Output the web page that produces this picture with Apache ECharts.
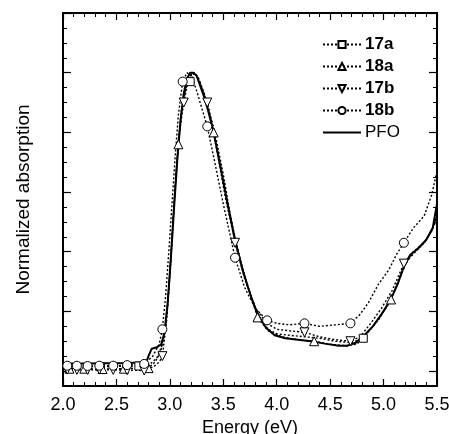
<!DOCTYPE html>
<html>
<head>
<meta charset="utf-8">
<script src="https://cdn.jsdelivr.net/npm/echarts@6/dist/echarts.min.js"></script>
<style>html,body{margin:0;padding:0;background:#fff;}#c{width:449px;height:434px;}</style>
</head>
<body>
<div id="c"></div>
<script>
// ---- data ----
var xTicks = [2.0, 2.5, 3.0, 3.5, 4.0, 4.5, 5.0, 5.5];
var yMajorTicks = [0, 0.2, 0.4, 0.6, 0.8, 1.0, 1.2];

var e17a = [2.00,2.35,2.71,2.82,2.88,2.92,2.96,2.99,3.02,3.05,3.08,3.11,3.15,3.19,3.23,3.27,3.32,3.38,3.45,3.52,3.60,3.68,3.76,3.84,3.92,4.00,4.12,4.26,4.40,4.55,4.70,4.81,4.90,5.00,5.10,5.19,5.28,5.38,5.45,5.50];
var v17a = [0.015,0.015,0.017,0.025,0.045,0.08,0.15,0.28,0.45,0.62,0.77,0.88,0.95,0.97,1.00,0.98,0.93,0.85,0.72,0.58,0.45,0.34,0.25,0.18,0.14,0.125,0.12,0.115,0.11,0.10,0.095,0.11,0.15,0.20,0.27,0.35,0.40,0.43,0.47,0.51];
var m17a = [2.35,2.71,3.19,4.81];

var e18a = [2.00,2.06,2.20,2.37,2.57,2.80,2.86,2.91,2.95,2.98,3.01,3.04,3.08,3.11,3.15,3.19,3.23,3.27,3.32,3.41,3.48,3.55,3.62,3.70,3.82,3.92,4.05,4.20,4.35,4.50,4.65,4.75,4.85,4.95,5.07,5.15,5.22,5.30,5.38,5.45,5.50];
var v18a = [0.008,0.008,0.008,0.007,0.008,0.01,0.03,0.06,0.12,0.22,0.38,0.57,0.76,0.87,0.95,0.99,1.00,0.98,0.93,0.80,0.68,0.55,0.43,0.32,0.18,0.135,0.115,0.105,0.10,0.09,0.085,0.09,0.13,0.17,0.24,0.31,0.37,0.40,0.43,0.47,0.52];
var m18a = [2.06,2.20,2.37,2.57,2.80,3.08,3.41,3.82,4.35,5.07];

var e17b = [2.00,2.04,2.13,2.23,2.34,2.47,2.60,2.76,2.85,2.90,2.93,2.97,3.00,3.03,3.06,3.09,3.13,3.17,3.21,3.25,3.30,3.35,3.42,3.50,3.61,3.70,3.80,3.91,4.00,4.12,4.26,4.40,4.55,4.69,4.78,4.88,4.98,5.08,5.19,5.28,5.38,5.45,5.50];
var v17b = [0.005,0.005,0.004,0.004,0.005,0.004,0.003,0.002,0.015,0.03,0.05,0.17,0.32,0.50,0.67,0.80,0.90,0.97,1.00,0.99,0.95,0.90,0.80,0.66,0.43,0.31,0.21,0.16,0.14,0.135,0.13,0.115,0.105,0.10,0.115,0.16,0.21,0.27,0.36,0.40,0.43,0.47,0.52];
var m17b = [2.04,2.13,2.23,2.34,2.47,2.60,2.76,2.93,3.13,3.35,3.61,4.26,4.69,5.19];

var e18b = [2.00,2.04,2.13,2.23,2.34,2.47,2.60,2.76,2.84,2.90,2.93,2.96,2.99,3.02,3.05,3.08,3.12,3.16,3.20,3.25,3.30,3.35,3.42,3.50,3.61,3.70,3.80,3.91,4.00,4.12,4.26,4.40,4.55,4.69,4.78,4.86,4.95,5.05,5.12,5.19,5.28,5.38,5.45,5.50];
var v18b = [0.018,0.018,0.018,0.017,0.018,0.018,0.02,0.024,0.05,0.09,0.14,0.25,0.40,0.56,0.72,0.86,0.97,1.00,0.99,0.94,0.88,0.82,0.70,0.56,0.38,0.28,0.21,0.17,0.16,0.155,0.16,0.15,0.155,0.16,0.19,0.23,0.29,0.34,0.39,0.43,0.48,0.52,0.59,0.67];
var m18b = [2.04,2.13,2.23,2.34,2.47,2.60,2.76,2.93,3.12,3.35,3.61,3.91,4.26,4.69,5.19];

var ePFO = [2.00,2.20,2.40,2.60,2.78,2.80,2.83,2.88,2.92,2.95,2.98,3.01,3.04,3.07,3.10,3.13,3.16,3.19,3.22,3.25,3.28,3.32,3.36,3.41,3.47,3.54,3.61,3.68,3.75,3.82,3.90,3.98,4.08,4.20,4.32,4.45,4.58,4.66,4.74,4.82,4.90,4.98,5.06,5.13,5.19,5.25,5.32,5.40,5.46,5.50];
var vPFO = [0.025,0.025,0.026,0.027,0.03,0.05,0.075,0.08,0.09,0.13,0.23,0.38,0.55,0.71,0.84,0.93,0.98,1.00,1.00,0.99,0.96,0.92,0.87,0.80,0.69,0.56,0.44,0.34,0.26,0.19,0.145,0.12,0.11,0.105,0.10,0.092,0.085,0.085,0.095,0.12,0.15,0.19,0.235,0.29,0.35,0.39,0.41,0.44,0.48,0.56];

// ---- build ----
var FONT = 'Arial, "Liberation Sans", sans-serif';
function build(es, vs, marks) {
  return es.map(function (e, i) {
    var item = { value: [e, vs[i]] };
    if (!marks || marks.indexOf(e) < 0) item.symbol = 'none';
    return item;
  });
}
var markerStyle = { color: '#fff', borderColor: '#000', borderWidth: 1 };
var dotted = { color: '#000', width: 1.4, type: [2, 2] };

function dotSeries(name, es, vs, marks, symbol, size, rot) {
  return {
    name: name, type: 'line', xAxisIndex: 0, yAxisIndex: 0,
    data: build(es, vs, marks), symbol: symbol, symbolSize: size, symbolRotate: rot || 0,
    showSymbol: true, lineStyle: dotted, itemStyle: markerStyle, z: 3,
    emphasis: { disabled: true }
  };
}

var xCommon = {
  type: 'value', min: 2, max: 5.5, interval: 0.5,
  axisLine: { show: true, onZero: false, lineStyle: { color: '#000', width: 2 } },
  axisTick: { show: true, inside: true, length: 7, lineStyle: { color: '#000', width: 1.2 } },
  minorTick: { show: true, splitNumber: 5, length: 4, lineStyle: { color: '#000', width: 1 } },
  splitLine: { show: false }, minorSplitLine: { show: false }
};
function yAxisDef(pos, major) {
  var a = {
    type: 'value', min: -0.05, max: 1.2, position: pos,
    axisLine: { show: true, onZero: false, lineStyle: { color: '#000', width: 2 } },
    axisLabel: { show: false }, splitLine: { show: false }
  };
  if (major) {
    a.axisTick = { show: true, inside: true, length: 8, customValues: yMajorTicks, lineStyle: { color: '#000', width: 1.2 } };
  } else {
    a.interval = 0.05;
    a.axisTick = { show: true, inside: true, length: 4, lineStyle: { color: '#000', width: 1 } };
  }
  return a;
}

var chart = echarts.init(document.getElementById('c'), null, { renderer: 'canvas' });
chart.setOption({
  animation: false,
  backgroundColor: '#fff',
  grid: { left: 63, right: 12, top: 13, bottom: 48, containLabel: false, outerBoundsMode: 'none' },
  xAxis: [
    Object.assign({}, xCommon, {
      position: 'bottom',
      axisLabel: { show: true, color: '#000', fontSize: 18, fontFamily: FONT, margin: 10,
        customValues: xTicks, formatter: function (v) { return v.toFixed(1); } },
      name: 'Energy (eV)', nameLocation: 'middle', nameGap: 31,
      nameTextStyle: { color: '#000', fontSize: 18, fontFamily: FONT }
    }),
    Object.assign({}, xCommon, { position: 'top', axisLabel: { show: false } })
  ],
  yAxis: [
    Object.assign(yAxisDef('left', false), {
      name: 'Normalized absorption', nameLocation: 'middle', nameGap: 30,
      nameTextStyle: { color: '#000', fontSize: 19, fontFamily: FONT }
    }),
    yAxisDef('left', true),
    yAxisDef('right', false),
    yAxisDef('right', true)
  ],
  legend: {
    orient: 'vertical', left: 317, top: 31, itemWidth: 38, itemHeight: 9, itemGap: 5,
    data: ['17a', '18a', '17b', '18b', { name: 'PFO', itemStyle: { opacity: 0 } }],
    formatter: function (n) { return n === 'PFO' ? '{n|PFO}' : '{b|' + n + '}'; },
    textStyle: {
      color: '#000', fontFamily: FONT, fontSize: 17, padding: [0, 0, 0, -1],
      rich: { b: { fontWeight: 'bold', fontSize: 17, fontFamily: FONT, color: '#000' },
              n: { fontSize: 17, fontFamily: FONT, color: '#000' } }
    },
    selectedMode: false
  },
  series: [
    { name: 'PFO', type: 'line', data: build(ePFO, vPFO, null), symbol: 'none', showSymbol: false,
      lineStyle: { color: '#000', width: 2 }, itemStyle: { color: '#000' }, z: 2, emphasis: { disabled: true } },
    dotSeries('17a', e17a, v17a, m17a, 'rect', 8, 0),
    dotSeries('18a', e18a, v18a, m18a, 'triangle', 9, 0),
    dotSeries('17b', e17b, v17b, m17b, 'triangle', 9, 180),
    dotSeries('18b', e18b, v18b, m18b, 'circle', 9, 0)
  ]
});
</script>
</body>
</html>
